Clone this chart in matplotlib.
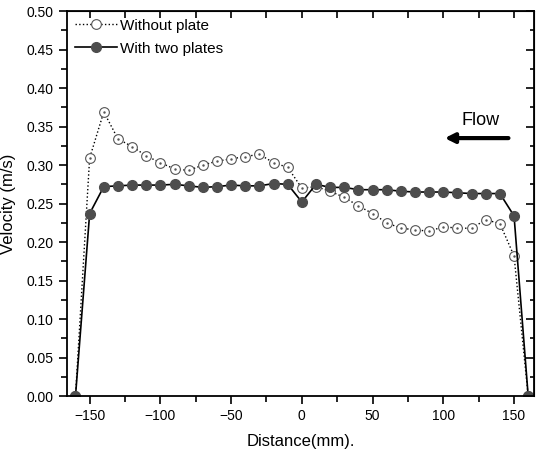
import matplotlib
matplotlib.use('Agg')
import matplotlib.pyplot as plt
from matplotlib.ticker import MultipleLocator

plt.rcParams['font.family'] = ['Liberation Sans Narrow', 'Liberation Sans', 'DejaVu Sans']

# Datos
distancia = [-160, -150, -140, -130, -120, -110, -100, -90, -80, -70, -60, -50, -40, -30,
             -20, -10, 0, 10, 20, 30, 40, 50, 60, 70, 80, 90, 100, 110, 120, 130, 140, 150, 160]
sin_placa = [0.0, 0.309, 0.369, 0.334, 0.324, 0.312, 0.303, 0.295, 0.293, 0.300, 0.305, 0.308,
             0.311, 0.314, 0.303, 0.297, 0.270, 0.272, 0.266, 0.258, 0.247, 0.237, 0.225, 0.218,
             0.216, 0.214, 0.220, 0.218, 0.218, 0.229, 0.224, 0.182, 0.0]
dos_placas = [0.0, 0.237, 0.272, 0.273, 0.274, 0.274, 0.274, 0.275, 0.273, 0.271, 0.272, 0.274,
              0.273, 0.273, 0.276, 0.275, 0.252, 0.275, 0.271, 0.271, 0.268, 0.268, 0.268, 0.266,
              0.265, 0.265, 0.265, 0.264, 0.263, 0.263, 0.263, 0.234, 0.0]

fig = plt.figure(figsize=(5.36, 4.59), dpi=100)
ax = fig.add_axes([0.125, 0.137, 0.871, 0.839])

ax.plot(distancia, sin_placa, linestyle=':', color='black', linewidth=1.0,
        marker='o', markersize=7, markerfacecolor='white', markeredgecolor='#555555',
        markeredgewidth=0.8, label='Without plate')
ax.plot(distancia, sin_placa, linestyle='none', marker='.', markersize=1.5, color='#555555')
ax.plot(distancia, dos_placas, linestyle='-', color='black', linewidth=1.2,
        marker='o', markersize=7, markerfacecolor='#4d4d4d', markeredgecolor='#4d4d4d',
        label='With two plates')

ax.set_xlim(-166, 164)
ax.set_ylim(0, 0.5)
ax.xaxis.set_major_locator(MultipleLocator(50))
ax.xaxis.set_minor_locator(MultipleLocator(25))
ax.yaxis.set_major_locator(MultipleLocator(0.05))
ax.yaxis.set_minor_locator(MultipleLocator(0.025))
ax.yaxis.set_major_formatter(matplotlib.ticker.FormatStrFormatter('%.2f'))
ax.tick_params(which='both', direction='out', top=False, right=False, labelsize=10, width=1.2)
ax.tick_params(which='major', length=6)
ax.tick_params(which='minor', length=4)
for s in ax.spines.values():
    s.set_linewidth(1.3)

sx = ax.secondary_xaxis('top')
sx.xaxis.set_major_locator(MultipleLocator(50))
sx.xaxis.set_minor_locator(MultipleLocator(25))
sx.tick_params(which='both', direction='in', labeltop=False, length=5, width=1.2)
sy = ax.secondary_yaxis('right')
sy.yaxis.set_major_locator(MultipleLocator(0.05))
sy.yaxis.set_minor_locator(MultipleLocator(0.025))
sy.tick_params(which='both', direction='in', labelright=False, width=1.2)
sy.tick_params(which='major', length=6)
sy.tick_params(which='minor', length=3)

ax.set_xlabel('Distance(mm).', fontsize=12, labelpad=8)
ax.set_ylabel('Velocity (m/s)', fontsize=12, labelpad=8)

ax.legend(loc='upper left', frameon=False, fontsize=11, handlelength=2.8,
          borderaxespad=0.1, borderpad=0.4, labelspacing=0.6, handletextpad=0.2)

ax.annotate('', xy=(99, 0.335), xytext=(148, 0.335),
            arrowprops=dict(arrowstyle='-|>', color='black', lw=3, mutation_scale=14))
ax.text(126, 0.358, 'Flow', fontsize=13, ha='center', va='center')

plt.savefig('out.png', dpi=100)
